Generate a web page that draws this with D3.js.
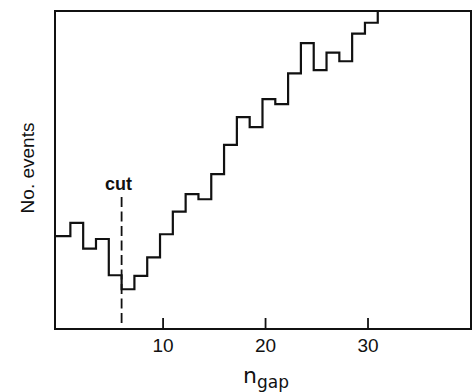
<!DOCTYPE html>
<html>
<head>
<meta charset="utf-8">
<script src="https://cdn.jsdelivr.net/npm/d3@7"></script>
<style>
  html, body { margin: 0; padding: 0; background: #fff; }
  svg { display: block; }
</style>
</head>
<body>
<svg id="chart" width="472" height="392"></svg>
<script>
// Histogram of n_gap: bin edges and event counts (arbitrary units)
const binEdges = [-0.5, 1, 2.25, 3.5, 4.75, 6, 7.25, 8.5, 9.75, 11, 12.25, 13.5, 14.75,
                  16, 17.25, 18.5, 19.75, 21, 22.25, 23.5, 24.75, 26, 27.25, 28.5, 29.75, 31, 40.1];
const counts = [29.2, 33.4, 25.3, 28.3, 16.9, 12.5, 16.7, 22.5, 29.8, 36.9, 42.4, 40.8, 48.7,
                57.9, 66.6, 63.5, 72.3, 70.7, 80.4, 89.9, 81.4, 86.9, 84.2, 92.9, 96.3, 104];
const xTicks = [10, 20, 30];
const xDomain = [-0.5, 40.1];
const yDomain = [0, 100];
const cutAt = 6;
const cutLabel = "cut";

const svg = d3.select("#chart");
const frame = { left: 55, right: 471, top: 11, bottom: 329 };

const x = d3.scaleLinear().domain(xDomain).range([frame.left, frame.right]);
const y = d3.scaleLinear().domain(yDomain).range([frame.bottom, frame.top]);

svg.append("defs").append("clipPath").attr("id", "plotClip")
  .append("rect")
  .attr("x", frame.left).attr("y", frame.top)
  .attr("width", frame.right - frame.left).attr("height", frame.bottom - frame.top);

// step outline of the histogram
const pts = counts.map((c, i) => [binEdges[i], c]);
pts.push([binEdges[binEdges.length - 1], counts[counts.length - 1]]);
const step = d3.line().x(d => x(d[0])).y(d => y(d[1])).curve(d3.curveStepAfter);

svg.append("path")
  .attr("clip-path", "url(#plotClip)")
  .attr("d", step(pts))
  .attr("fill", "none")
  .attr("stroke", "#111")
  .attr("stroke-width", 2.2)
  .attr("stroke-linejoin", "miter");

// frame
svg.append("rect")
  .attr("x", frame.left).attr("y", frame.top)
  .attr("width", frame.right - frame.left).attr("height", frame.bottom - frame.top)
  .attr("fill", "none").attr("stroke", "#111").attr("stroke-width", 2);

// x axis with inward ticks
const xAxis = d3.axisBottom(x).tickValues(xTicks).tickSizeInner(-11).tickSizeOuter(0).tickPadding(10);
const gx = svg.append("g").attr("transform", `translate(0,${frame.bottom})`).call(xAxis);
gx.select(".domain").remove();
gx.selectAll(".tick line").attr("stroke", "#111").attr("stroke-width", 1.8);
gx.selectAll(".tick text")
  .attr("fill", "#111")
  .style("font-family", "'Liberation Sans', Arial, sans-serif")
  .style("font-size", "19px");

// cut marker
svg.append("line")
  .attr("x1", x(cutAt)).attr("x2", x(cutAt))
  .attr("y1", 197).attr("y2", 325)
  .attr("stroke", "#111").attr("stroke-width", 1.8)
  .attr("stroke-dasharray", "10,4.5");
svg.append("text")
  .attr("x", x(cutAt) - 3).attr("y", 189.5)
  .attr("text-anchor", "middle")
  .style("font-family", "'Liberation Sans', Arial, sans-serif")
  .style("font-size", "18px").style("font-weight", "bold")
  .attr("fill", "#111")
  .text(cutLabel);

// axis titles
const xt = svg.append("text")
  .attr("x", 266).attr("y", 383)
  .attr("text-anchor", "middle")
  .style("font-family", "'DejaVu Sans', sans-serif")
  .attr("fill", "#111");
xt.append("tspan").style("font-size", "22px").text("n");
xt.append("tspan").attr("dy", 5).style("font-size", "17px").text("gap");

svg.append("text")
  .attr("transform", "translate(34,168) rotate(-90)")
  .attr("text-anchor", "middle")
  .style("font-family", "'Liberation Sans', Arial, sans-serif")
  .style("font-size", "19px")
  .attr("fill", "#111")
  .text("No. events");
</script>
</body>
</html>
